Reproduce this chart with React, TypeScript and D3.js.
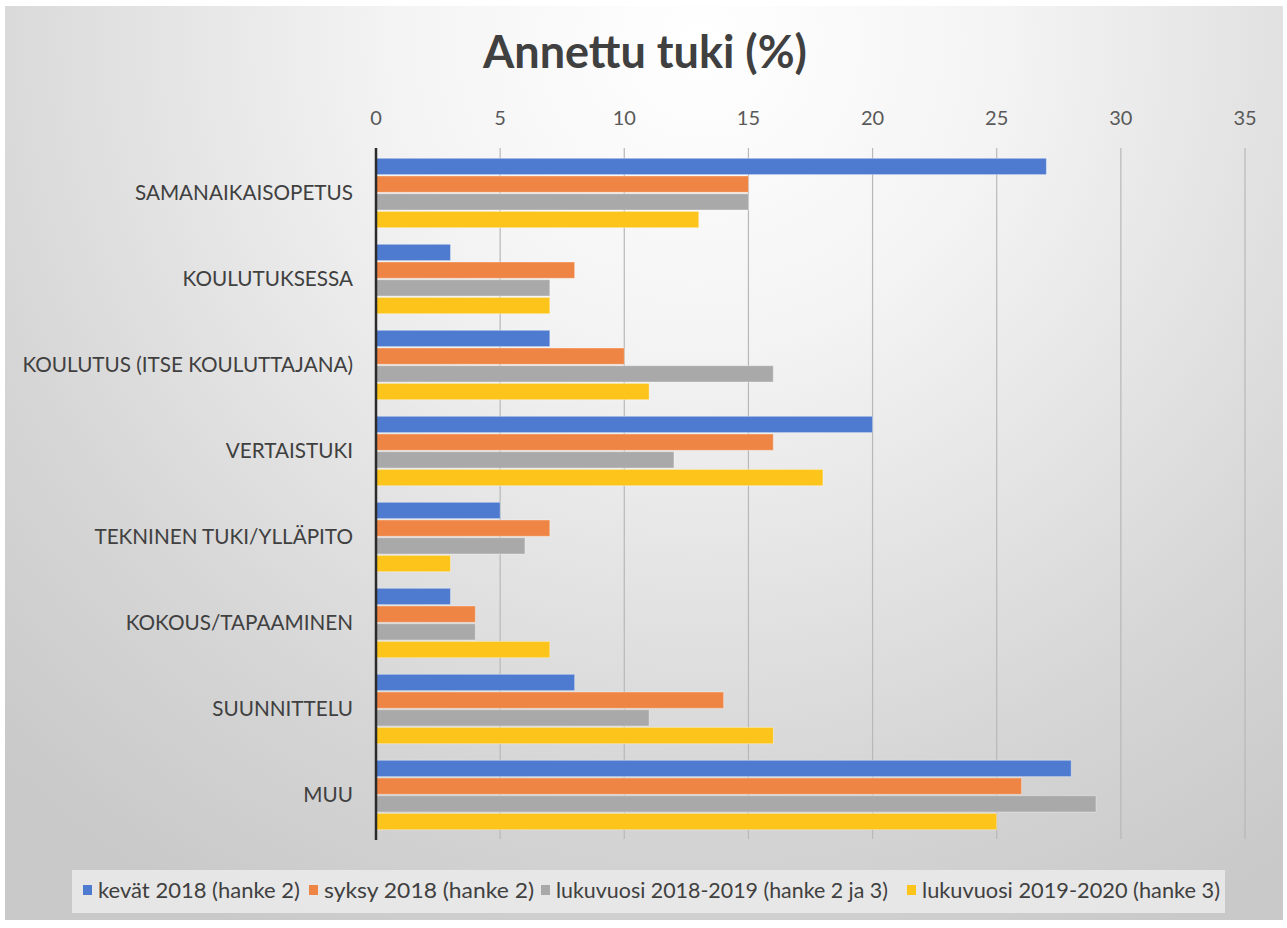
import React from "react";
import * as d3 from "d3";

const categories = [
  "SAMANAIKAISOPETUS",
  "KOULUTUKSESSA",
  "KOULUTUS (ITSE KOULUTTAJANA)",
  "VERTAISTUKI",
  "TEKNINEN TUKI/YLLÄPITO",
  "KOKOUS/TAPAAMINEN",
  "SUUNNITTELU",
  "MUU",
];
const seriesNames = [
  "kevät 2018 (hanke 2)",
  "syksy 2018 (hanke 2)",
  "lukuvuosi 2018-2019 (hanke 2 ja 3)",
  "lukuvuosi 2019-2020 (hanke 3)",
];
const kevat2018 = [27, 3, 7, 20, 5, 3, 8, 28];
const syksy2018 = [15, 8, 10, 16, 7, 4, 14, 26];
const lukuvuosi1819 = [15, 7, 16, 12, 6, 4, 11, 29];
const lukuvuosi1920 = [13, 7, 11, 18, 3, 7, 16, 25];
const seriesValues = [kevat2018, syksy2018, lukuvuosi1819, lukuvuosi1920];
const colors = ["#4e7bd0", "#ee8544", "#a9a9a9", "#fdc41c"];
const ticks = [0, 5, 10, 15, 20, 25, 30, 35];

const W = 1287;
const H = 928;
const FONT = "Lato, 'Open Sans', sans-serif";

export default function App() {
  const x = d3.scaleLinear().domain([0, 35]).range([376, 1245]);
  const y = d3.scaleBand<string>().domain(categories).range([150, 838]).paddingInner(0.16).paddingOuter(0.08);
  const sub = d3
    .scaleBand<number>()
    .domain(d3.range(seriesNames.length))
    .range([0, y.bandwidth()])
    .padding(0.08);

  // legend layout: text start positions and text widths
  const legendTextX = [98, 324, 556, 922];
  const legendTextW = [202, 210, 332, 298];

  return (
    <svg
      width={W}
      height={H}
      style={{ position: "absolute", left: 0, top: 0, display: "block" }}
      fontFamily={FONT}
    >
      <defs>
        <radialGradient id="bg" gradientUnits="userSpaceOnUse" cx={700} cy={40} r={1000}>
          <stop offset="0" stopColor="#ffffff" />
          <stop offset="0.3" stopColor="#f4f4f4" />
          <stop offset="0.75" stopColor="#d6d6d6" />
          <stop offset="1" stopColor="#c9c9c9" />
        </radialGradient>
      </defs>
      <rect x={0} y={0} width={W} height={H} fill="#ffffff" />
      <rect x={5} y={6} width={1278} height={914} fill="url(#bg)" />

      <text x={645} y={68} textAnchor="middle" fontSize={45} fontWeight={700} fill="#404040">
        Annettu tuki (%)
      </text>

      {/* gridlines */}
      {ticks.map((t) =>
        t === 0 ? null : (
          <line key={"g" + t} x1={x(t)} x2={x(t)} y1={148} y2={839} stroke="#b8b8b8" strokeWidth={1.2} />
        )
      )}
      {ticks.map((t) => (
        <text key={"t" + t} x={x(t)} y={125} textAnchor="middle" fontSize={20} fill="#595959">
          {t}
        </text>
      ))}

      {/* bars */}
      {categories.map((c, i) => (
        <g key={c} transform={`translate(0,${y(c)})`}>
          {seriesValues.map((vals, s) => (
            <rect
              key={s}
              x={x(0)}
              y={sub(s)}
              width={x(vals[i]) - x(0)}
              height={sub.bandwidth()}
              fill={colors[s]}
              stroke="#ffffff"
              strokeOpacity={0.35}
              strokeWidth={1}
            />
          ))}
        </g>
      ))}

      {/* y axis line */}
      <line x1={x(0)} x2={x(0)} y1={148} y2={840} stroke="#2b2b2b" strokeWidth={2.5} />

      {/* category labels */}
      {categories.map((c) => (
        <text
          key={"l" + c}
          x={353}
          y={(y(c) as number) + y.bandwidth() / 2 + 7}
          textAnchor="end"
          fontSize={20.7}
          fill="#404040"
        >
          {c}
        </text>
      ))}

      {/* legend */}
      <rect x={72} y={870} width={1153} height={43} fill="#ebebeb" opacity={0.85} />
      {seriesNames.map((n, s) => (
        <g key={n}>
          <rect x={legendTextX[s] - 15} y={885} width={9} height={10} fill={colors[s]} />
          <text
            x={legendTextX[s]}
            y={898}
            fontSize={22}
            fill="#404040"
            textLength={legendTextW[s]}
            lengthAdjust="spacingAndGlyphs"
          >
            {n}
          </text>
        </g>
      ))}
    </svg>
  );
}
